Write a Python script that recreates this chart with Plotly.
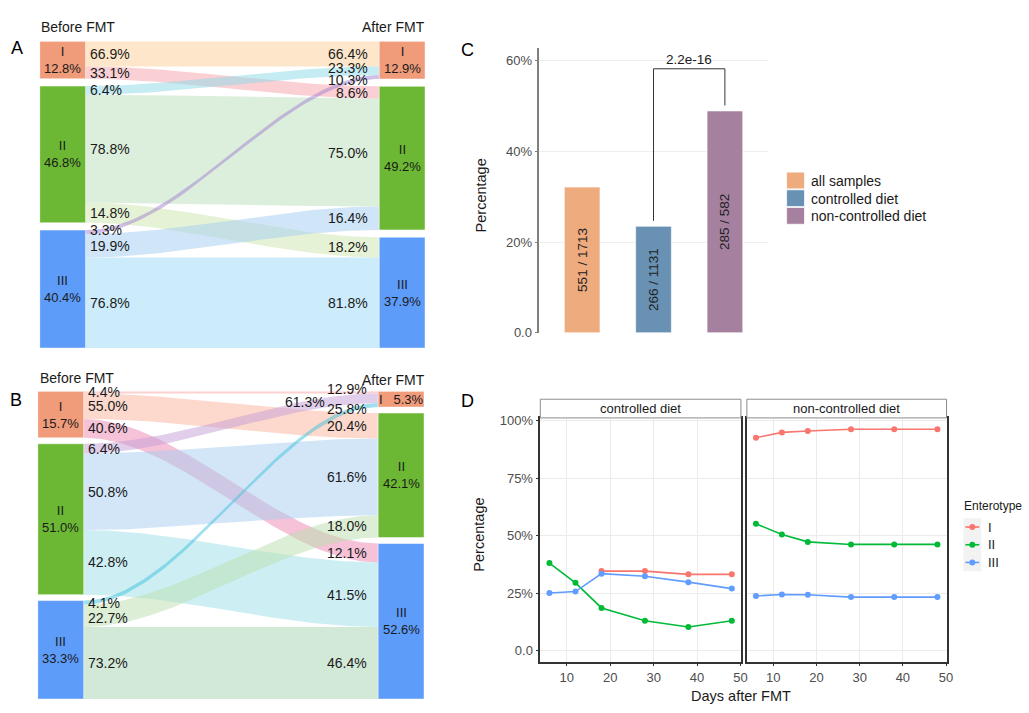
import numpy as np
import plotly.graph_objects as go

W, H = 1029, 713
FONT = "Liberation Sans, Arial, sans-serif"
DARK = "#1A1A1A"
TICK = "#4D4D4D"

# ------------------------- DATA -------------------------
enterotypes = ["I", "II", "III"]

# Panel A (alluvial): node shares (%) and link percentages
A_before = [12.8, 46.8, 40.4]
A_after = [12.9, 49.2, 37.9]
# rows = source (before), cols = target (after); % of source
A_out_pct = [[66.9, 33.1, 0.0],
             [6.4, 78.8, 14.8],
             [3.3, 19.9, 76.8]]
# rows = source, cols = target; % of target
A_in_pct = [[66.4, 8.6, 0.0],
            [23.3, 75.0, 18.2],
            [10.3, 16.4, 81.8]]

# Panel B (alluvial)
B_before = [15.7, 51.0, 33.3]
B_after = [5.3, 42.1, 52.6]
B_out_pct = [[4.4, 55.0, 40.6],
             [6.4, 50.8, 42.8],
             [4.1, 22.7, 73.2]]
B_in_pct = [[12.9, 20.4, 12.1],
            [61.3, 61.6, 41.5],
            [25.8, 18.0, 46.4]]

# Panel C (bars)
C_groups = ["all samples", "controlled diet", "non-controlled diet"]
C_hits = [551, 266, 285]
C_totals = [1713, 1131, 582]
C_pvalue = "2.2e-16"
C_yticks = [0.0, 0.2, 0.4, 0.6]
C_yticklabels = ["0.0", "20%", "40%", "60%"]

# Panel D (lines)
D_facets = ["controlled diet", "non-controlled diet"]
D_days = [6, 12, 18, 28, 38, 48]
D_ctrl_I = [None, None, 0.347, 0.347, 0.333, 0.333]
D_ctrl_II = [0.382, 0.296, 0.187, 0.131, 0.104, 0.131]
D_ctrl_III = [0.252, 0.258, 0.336, 0.325, 0.299, 0.271]
D_non_I = [0.927, 0.950, 0.956, 0.964, 0.964, 0.964]
D_non_II = [0.553, 0.506, 0.474, 0.463, 0.463, 0.463]
D_non_III = [0.239, 0.245, 0.244, 0.234, 0.234, 0.234]
D_xticks = [10, 20, 30, 40, 50]
D_yticks = [0.0, 0.25, 0.5, 0.75, 1.0]
D_yticklabels = ["0.0", "25%", "50%", "75%", "100%"]
D_legend_title = "Enterotype"

# ------------------------- STYLE -------------------------
NODE_COLORS = ["#F09B7A", "#6CB834", "#5E9CF9"]
A_LINK_COLORS = [["#FBCD93", "#F5A1A9", "#FFFFFF"],
                 ["#8BD9E7", "#B9DDB9", "#CDE5AD"],
                 ["#A17FCD", "#A1CDF1", "#99D9F7"]]
B_LINK_COLORS = [["#F7A3A3", "#F9B399", "#EB85B1"],
                 ["#C39DD5", "#A7CDF1", "#9BDFE7"],
                 ["#3FC1DD", "#B9DFAD", "#A5D3B1"]]
C_COLORS = ["#EEAB7E", "#6891B3", "#A5819F"]
D_COLORS = {"I": "#F8766D", "II": "#00BA38", "III": "#619CFF"}
LINK_ALPHA = 0.5
NODE_W = 0.119


def px(x):
    return x / W


def py(y):
    return 1 - y / H


def rgba(hexc, a):
    h = hexc.lstrip("#")
    r, g, b = int(h[0:2], 16), int(h[2:4], 16), int(h[4:6], 16)
    return f"rgba({r},{g},{b},{a})"


fig = go.Figure()
shapes = []
annotations = []


def ann(text, x, y, size=14, color=DARK, xanchor="center", yanchor="middle",
        xref="paper", yref="paper", textangle=0, xshift=0, yshift=0):
    annotations.append(dict(text=text, x=x, y=y, xref=xref, yref=yref, showarrow=False,
                            font=dict(family=FONT, size=size, color=color),
                            xanchor=xanchor, yanchor=yanchor, textangle=textangle,
                            xshift=xshift, yshift=yshift))


def alluvial(idx, before, out_pct, in_pct, after, link_colors, gap, nudges_right, nudges_left):
    xa, ya = f"x{idx}", f"y{idx}"
    n = len(before)
    flows = [[before[i] * out_pct[i][j] / 100.0 for j in range(n)] for i in range(n)]
    ltot = [sum(flows[i]) for i in range(n)]
    rtot = [sum(flows[i][j] for i in range(n)) for j in range(n)]
    ltop, rtop = [], []
    c = 0.0
    for i in range(n):
        ltop.append(c)
        c += ltot[i] + gap
    total_l = c - gap
    c = 0.0
    for j in range(n):
        rtop.append(c)
        c += rtot[j] + gap
    total = max(total_l, c - gap)

    lcur = list(ltop)
    rcur = list(rtop)
    xs = np.linspace(NODE_W, 1 - NODE_W, 80)
    u = (xs - NODE_W) / (1 - 2 * NODE_W)
    s = 3 * u ** 2 - 2 * u ** 3
    for i in range(n):
        for j in range(n):
            f = flows[i][j]
            if f <= 0:
                continue
            y0 = lcur[i]
            lcur[i] += f
            y1 = rcur[j]
            rcur[j] += f
            top = y0 + (y1 - y0) * s
            bot = top + f
            fig.add_trace(go.Scatter(
                x=np.concatenate([xs, xs[::-1]]), y=np.concatenate([top, bot[::-1]]),
                fill="toself", mode="lines", line=dict(width=0, color="rgba(0,0,0,0)"),
                fillcolor=rgba(link_colors[i][j], LINK_ALPHA), hoverinfo="skip",
                showlegend=False, xaxis=xa, yaxis=ya))
            dxl, dyl = nudges_left.get((i, j), (0, 0))
            ann(f"{out_pct[i][j]:.1f}%", NODE_W, y0 + f / 2, xanchor="left",
                xref=xa, yref=ya, xshift=2 + dxl, yshift=-dyl)
            dxr, dyr = nudges_right.get((i, j), (0, 0))
            ann(f"{in_pct[i][j]:.1f}%", 1 - NODE_W, y1 + f / 2, xanchor="right",
                xref=xa, yref=ya, xshift=-9 + dxr, yshift=-dyr)

    for side, tops, tots, shares in (("L", ltop, ltot, before), ("R", rtop, rtot, after)):
        x0, x1 = (0, NODE_W) if side == "L" else (1 - NODE_W, 1)
        for k in range(n):
            shapes.append(dict(type="rect", xref=xa, yref=ya, x0=x0, x1=x1,
                               y0=tops[k], y1=tops[k] + tots[k],
                               fillcolor=NODE_COLORS[k],
                               line=dict(color="rgba(255,255,255,0.5)", width=1), layer="above"))
            if tots[k] < 8:
                txt = f"{enterotypes[k]}&nbsp;&nbsp;&nbsp;{shares[k]:.1f}%"
            else:
                txt = f"{enterotypes[k]}<br>{shares[k]:.1f}%"
            ann(txt, (x0 + x1) / 2, tops[k] + tots[k] / 2, size=13, xref=xa, yref=ya)
    return total


# Panel A
totA = alluvial(1, A_before, A_out_pct, A_in_pct, A_after, A_LINK_COLORS, 2.5,
                nudges_right={(1, 0): (0, -3), (2, 0): (0, 3)}, nudges_left={(2, 0): (0, -2)})
# Panel B
totB = alluvial(2, B_before, B_out_pct, B_in_pct, B_after, B_LINK_COLORS, 2.0,
                nudges_right={(0, 0): (0, -3), (1, 0): (-42, 4), (2, 0): (0, 4)},
                nudges_left={(2, 1): (0, 2)})

hidden = dict(visible=False, fixedrange=True)
layout_axes = dict(
    xaxis=dict(domain=[px(40), px(428)], range=[0, 1], anchor="y", **hidden),
    yaxis=dict(domain=[py(350), py(38)], range=[totA, 0], anchor="x", **hidden),
    xaxis2=dict(domain=[px(38), px(427)], range=[0, 1], anchor="y2", **hidden),
    yaxis2=dict(domain=[py(707), py(394)], range=[totB, 0], anchor="x2", **hidden),
)

# headers for A & B
ann("Before FMT", px(39), py(23), xanchor="left")
ann("After FMT", px(430), py(23), xanchor="right")
ann("Before FMT", px(38), py(380), xanchor="left")
ann("After FMT", px(430), py(382), xanchor="right")
ann("A", px(17), py(45), size=18, color="#000")
ann("B", px(16), py(403), size=18, color="#000")
ann("C", px(471), py(47), size=18, color="#000")
ann("D", px(471), py(404), size=18, color="#000")

# ------------------------- Panel C -------------------------
C_vals = [h / t for h, t in zip(C_hits, C_totals)]
C_x = list(range(len(C_groups)))
fig.add_trace(go.Bar(
    x=C_x, y=C_vals, width=0.5, marker=dict(color=C_COLORS, line=dict(color="rgba(255,255,255,0.6)", width=1)),
    text=[f"{h} / {t}" for h, t in zip(C_hits, C_totals)], textposition="inside",
    insidetextanchor="middle", textangle=-90, constraintext="none",
    textfont=dict(family=FONT, size=13.5, color="#222"),
    showlegend=False, hoverinfo="skip", xaxis="x3", yaxis="y3"))

top_br = max(C_vals[1], C_vals[2]) + 0.093
fig.add_trace(go.Scatter(
    x=[C_x[1], C_x[1], C_x[2], C_x[2]],
    y=[C_vals[1] + 0.012, top_br, top_br, C_vals[2] + 0.012],
    mode="lines", line=dict(color="#333", width=1), showlegend=False, hoverinfo="skip",
    xaxis="x3", yaxis="y3"))
ann(C_pvalue, (C_x[1] + C_x[2]) / 2, top_br, size=13.5, yanchor="bottom",
    xref="x3", yref="y3", yshift=0)

layout_axes.update(
    xaxis3=dict(domain=[px(543), px(773)], range=[-0.6, 2.6], anchor="y3", showticklabels=False,
                showgrid=False, zeroline=False, showline=False, ticks="", fixedrange=True),
    yaxis3=dict(domain=[py(334.5), py(45)], range=[0, 0.628], anchor="x3",
                tickvals=C_yticks, ticktext=C_yticklabels, showgrid=True, gridcolor="#EFEFEF",
                gridwidth=1, zeroline=False, showline=True, linecolor="#7F7F7F", linewidth=1.5,
                ticks="outside", ticklen=3, tickcolor="#7F7F7F",
                tickfont=dict(family=FONT, size=13, color=TICK), fixedrange=True),
)
ann("Percentage", px(484), py(195), size=14.5, textangle=-90)

# manual legend for C
for k, g in enumerate(C_groups):
    yt = 171 + 18 * k
    shapes.append(dict(type="rect", xref="paper", yref="paper", x0=px(792), x1=px(810),
                       y0=py(yt + 17), y1=py(yt), fillcolor=C_COLORS[k],
                       line=dict(color="rgba(255,255,255,0.7)", width=1)))
    ann(g, px(815), py(yt + 9), xanchor="left")

# ------------------------- Panel D -------------------------
series = {"controlled diet": {"I": D_ctrl_I, "II": D_ctrl_II, "III": D_ctrl_III},
          "non-controlled diet": {"I": D_non_I, "II": D_non_II, "III": D_non_III}}
for fi, facet in enumerate(D_facets):
    ax = 4 + fi
    for name in enterotypes:
        fig.add_trace(go.Scatter(
            x=D_days, y=series[facet][name], mode="lines+markers", name=name,
            showlegend=False,
            line=dict(color=D_COLORS[name], width=1.6),
            marker=dict(color=D_COLORS[name], size=6),
            connectgaps=False, hoverinfo="skip", xaxis=f"x{ax}", yaxis=f"y{ax}"))

d_common_x = dict(range=[3.9, 50.1], tickvals=D_xticks, showgrid=True, gridcolor="#EBEBEB",
                  zeroline=False, showline=True, mirror=True, linecolor="#333", linewidth=1.5,
                  ticks="outside", ticklen=3, tickcolor="#333",
                  tickfont=dict(family=FONT, size=13, color=TICK), fixedrange=True)
d_common_y = dict(range=[-0.047, 1.013], tickvals=D_yticks, showgrid=True, gridcolor="#EBEBEB",
                  zeroline=False, showline=True, mirror=True, linecolor="#333", linewidth=1.5,
                  tickfont=dict(family=FONT, size=13, color=TICK), fixedrange=True)
layout_axes.update(
    xaxis4=dict(domain=[px(544), px(746)], anchor="y4", **d_common_x),
    yaxis4=dict(domain=[py(669), py(421)], anchor="x4", ticktext=D_yticklabels,
                ticks="outside", ticklen=3, tickcolor="#333", **d_common_y),
    xaxis5=dict(domain=[px(752), px(953)], anchor="y5", **d_common_x),
    yaxis5=dict(domain=[py(669), py(421)], anchor="x5", showticklabels=False, ticks="",
                **d_common_y),
)
for (xl, xr), facet in zip([(544, 746), (752, 953)], D_facets):
    shapes.append(dict(type="rect", xref="paper", yref="paper", x0=px(xl), x1=px(xr),
                       y0=py(421), y1=py(402), fillcolor="white",
                       line=dict(color="#8C8C8C", width=1)))
    ann(facet, px((xl + xr) / 2), py(411.5), size=13)

ann("Days after FMT", px(746), py(704), size=14.5)
ann("Percentage", px(482), py(540), size=14.5, textangle=-90)

# manual legend for D (ggplot style keys)
ann(D_legend_title, px(969), py(511), size=12, xanchor="left")
for k, name in enumerate(enterotypes):
    yc = 532 + 18 * k
    shapes.append(dict(type="rect", xref="paper", yref="paper", x0=px(970), x1=px(988),
                       y0=py(yc + 9), y1=py(yc - 9), fillcolor="#F2F2F2",
                       line=dict(width=0)))
    shapes.append(dict(type="line", xref="paper", yref="paper", x0=px(972), x1=px(986),
                       y0=py(yc), y1=py(yc), line=dict(color=D_COLORS[name], width=1.6)))
    shapes.append(dict(type="circle", xref="paper", yref="paper", x0=px(976), x1=px(982),
                       y0=py(yc + 3), y1=py(yc - 3), fillcolor=D_COLORS[name],
                       line=dict(width=0)))
    ann(name, px(993), py(yc), size=13, xanchor="left")

fig.update_layout(
    width=W, height=H, margin=dict(l=0, r=0, t=0, b=0),
    paper_bgcolor="white", plot_bgcolor="rgba(0,0,0,0)",
    font=dict(family=FONT, size=13, color=DARK),
    shapes=shapes, annotations=annotations, showlegend=False,
    **layout_axes,
)

fig.write_html("out.html", config={"displayModeBar": False},
               post_script="document.body.style.margin='0px';")
